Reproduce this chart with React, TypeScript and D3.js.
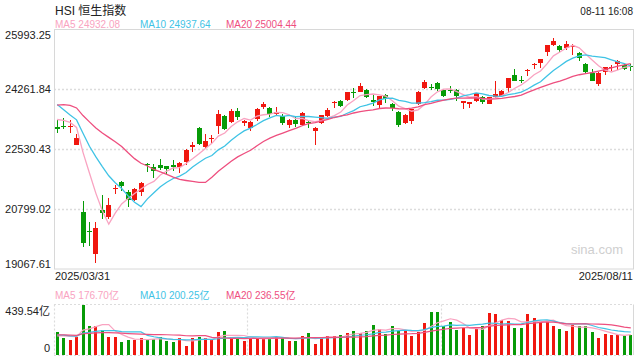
import React, { useEffect } from 'react';
import * as d3 from 'd3';

const title = 'HSI 恒生指数';
const timestamp = '08-11 16:08';
const startDate = '2025/03/31';
const endDate = '2025/08/11';
const priceTicks = [25993.25, 24261.84, 22530.43, 20799.02, 19067.61];
const volumeMax = 439.54;
const volumeUnit = '亿';
const watermark = 'sina.com';
const maPeriods = [5, 10, 20];

// 19 closes before the first shown day (used only for moving averages)
const priorCloses = [22941.32, 23594.21, 24369.71, 24231.3, 23783.49, 23782.14, 23600.31, 23462.65, 23959.98, 24145.57,
  24740.57, 24771.14, 24219.95, 23689.72, 23905.56, 23344.25, 23483.32, 23578.8, 23426.6];
const priorVolumes = [180, 172, 178, 169, 183, 175, 171, 177, 180, 175, 190, 182, 188, 179, 186, 160, 155, 162, 156];

const opens = [23183, 23215, 23180, 22643, 20724, 20160, 19490, 20782, 20570, 21385,
  21592, 21303, 21052, 21283, 22095, 22026, 22064, 22055, 22064, 22016,
  22170, 22604, 23153, 22594, 22840, 23192, 23481, 23307, 23645, 23300,
  23153, 23394, 23760, 23732, 23560, 23491, 23221, 23385, 23230, 23327,
  23057, 23279, 23491, 23860, 23924, 23953, 24200, 24194, 24233, 23963,
  23809, 24088, 23847, 23616, 23279, 23336, 23828, 24310, 24340, 24445,
  24233, 24240, 24233, 23860, 23850, 23924, 24040, 23847, 24040, 24079,
  24291, 24676, 24540, 24790, 24960, 25023, 25351, 25534, 25515, 25447,
  25500, 25322, 24985, 24724, 24426, 24763, 24880, 24985, 24975, 24930];
const highs = [23365, 23442, 23375, 22980, 21033, 20435, 20435, 21197, 21110, 21500,
  21600, 21341, 21418, 21582, 22141, 22093, 22257, 22060, 22209, 22151,
  22527, 22749, 23172, 22960, 22941, 23674, 23520, 23680, 23712, 23390,
  23360, 23712, 23905, 23761, 23741, 23558, 23400, 23462, 23600, 23346,
  23175, 23530, 23712, 23930, 23963, 24200, 24291, 24435, 24281, 24088,
  24069, 24117, 23867, 23635, 23540, 23700, 24214, 24532, 24406, 24474,
  24281, 24349, 24262, 23930, 23905, 24170, 24069, 24050, 24503, 24252,
  24599, 24860, 24637, 24850, 25023, 25140, 25544, 25737, 25544, 25659,
  25560, 25351, 25014, 24860, 24750, 24917, 24965, 25119, 25004, 24985];
const lows = [22999, 23105, 22999, 22640, 19703, 19731, 19250, 20522, 20503, 21226,
  21322, 20859, 21033, 21187, 21871, 21708, 21920, 21804, 21900, 21833,
  22074, 22450, 22652, 22565, 22690, 22980, 23076, 23288, 23365, 23192,
  23057, 23346, 23683, 23462, 23480, 23221, 23153, 23173, 23201, 23153,
  22652, 23250, 23462, 23732, 23751, 23924, 24002, 24175, 24002, 23770,
  23693, 23876, 23626, 23173, 23250, 23250, 23809, 24281, 24243, 24214,
  24040, 24146, 23924, 23693, 23712, 23886, 23828, 23828, 24021, 24059,
  24165, 24503, 24455, 24637, 24840, 24888, 25226, 25505, 25351, 25399,
  25254, 25081, 24744, 24493, 24368, 24686, 24792, 24811, 24811, 24792];
const closes = [23119.58, 23206.84, 23202.53, 22849.81, 19828.3, 20127.68, 20264.49, 20681.78, 20914.69, 21417.4,
  21466.27, 21056.98, 21395.14, 21562.32, 22072.62, 21909.76, 21980.74, 21971.96, 22008.11, 22119.41,
  22504.68, 22662.71, 22691.88, 22775.92, 22867.74, 23549.46, 23108.27, 23640.65, 23453.16, 23345.05,
  23332.72, 23681.48, 23827.78, 23544.31, 23601.26, 23282.33, 23381.99, 23258.31, 23573.38, 23289.77,
  23157.97, 23512.49, 23654.03, 23906.97, 23792.54, 24181.43, 24162.87, 24366.94, 24035.38, 23892.56,
  24060.99, 23980.3, 23710.69, 23237.74, 23530.48, 23689.13, 24177.07, 24474.67, 24325.4, 24284.15,
  24072.28, 24221.41, 24069.94, 23916.06, 23887.83, 24148.07, 23892.32, 24028.37, 24139.57, 24203.32,
  24590.12, 24517.76, 24498.95, 24825.66, 24994.14, 25130.03, 25538.07, 25667.18, 25388.35, 25562.13,
  25524.45, 25176.93, 24773.33, 24507.81, 24733.45, 24902.53, 24910.63, 25081.63, 24858.82, 24906.81];
const volumes = [202, 152, 132, 158, 439.54, 255, 252, 217, 158, 158,
  114, 132, 132, 149, 138, 138, 158, 123, 114, 149,
  79, 149, 161, 149, 132, 202, 211, 161, 149, 126,
  138, 149, 149, 149, 158, 149, 126, 126, 167, 193,
  97, 155, 167, 167, 176, 193, 211, 193, 211, 264,
  229, 185, 255, 211, 211, 167, 202, 281, 378, 378,
  249, 290, 220, 237, 176, 229, 255, 369, 360, 308,
  299, 237, 237, 360, 319, 290, 290, 255, 229, 212.5,
  264, 255, 255, 196, 149, 186, 177, 177, 167, 176.5];

const RED = '#f0170f';
const GREEN = '#079b07';
const MA_COLORS = ['#f9a3c1', '#3fc3e5', '#ee4f7f'];
const GRID = '#dcdcdc';
const FONT = '"Liberation Sans", Arial, "Noto Sans CJK SC", sans-serif';

const L = 54, R = 634;
const MT = 29.5, MB = 269;
const VT = 304.5, VB = 355;

function movingAvg(prior: number[], vals: number[], n: number): number[] {
  const all = prior.concat(vals);
  return vals.map((_, i) => {
    const end = prior.length + i;
    return d3.mean(all.slice(end - n + 1, end + 1)) as number;
  });
}

export default function App() {
  useEffect(() => {
    document.body.style.margin = '0';
  }, []);

  const idx = d3.range(closes.length);
  const x = d3.scaleBand<number>().domain(idx).range([L, R]);
  const cx = (i: number) => (x(i) as number) + x.bandwidth() / 2;
  const y = d3.scaleLinear().domain([priceTicks[4], priceTicks[0]]).range([MB, MT]);
  const vy = d3.scaleLinear().domain([0, volumeMax]).range([VB, VT]);

  const priceMAs = maPeriods.map((n) => movingAvg(priorCloses, closes, n));
  const volMAs = maPeriods.map((n) => movingAvg(priorVolumes, volumes, n));

  const pLine = d3.line<number>().x((_, i) => cx(i)).y((d) => y(d));
  const vLine = d3.line<number>().x((_, i) => cx(i)).y((d) => vy(d));

  const legendX = [55, 140, 226];
  const thirds = [L + (R - L) / 3, L + (2 * (R - L)) / 3];

  return (
    <svg width={640} height={360} style={{ position: 'absolute', left: 0, top: 0, background: '#fff' }} fontFamily={FONT}>
      <rect x={0} y={0} width={640} height={360} fill="#fff" />
      {/* header */}
      <text x={55} y={15} fontSize={12} fill="#222">{title}</text>
      <text x={633} y={15} fontSize={10} fill="#222" textAnchor="end">{timestamp}</text>
      {maPeriods.map((n, k) => (
        <text key={'ml' + n} x={legendX[k]} y={28} fontSize={10} fill={MA_COLORS[k]}>
          {`MA${n} ${priceMAs[k][closes.length - 1].toFixed(2)}`}
        </text>
      ))}

      {/* main panel grid */}
      {priceTicks.slice(1, 4).map((t) => (
        <line key={'g' + t} x1={L} x2={R} y1={Math.round(y(t)) + 0.5} y2={Math.round(y(t)) + 0.5}
          stroke={GRID} strokeDasharray="2,2" strokeWidth={1.5} />
      ))}
      <rect x={L + 0.5} y={MT} width={R - L - 1} height={MB - MT} fill="none" stroke="#d8d8d8" strokeWidth={1} />
      {priceTicks.map((t, k) => {
        const off = k === 0 ? 5.5 : k === priceTicks.length - 1 ? -5.5 : 0;
        return (
          <text key={'t' + t} x={51} y={y(t) + off + 4} fontSize={11} fill="#222" textAnchor="end">
            {t.toFixed(2)}
          </text>
        );
      })}
      <text x={623} y={254} fontSize={13} fill="#cfcfcf" textAnchor="end">{watermark}</text>

      {/* candles */}
      {idx.map((i) => {
        const up = closes[i] >= opens[i];
        const col = up ? RED : GREEN;
        const bx = Math.round(cx(i) - 2.5);
        const top = y(Math.max(opens[i], closes[i]));
        const bot = y(Math.min(opens[i], closes[i]));
        return (
          <g key={'c' + i} shapeRendering="crispEdges">
            <line x1={bx + 2.5} x2={bx + 2.5} y1={y(highs[i])} y2={y(lows[i])} stroke={col} strokeWidth={1} />
            <rect x={bx} y={top} width={5} height={Math.max(1, bot - top)} fill={col} />
          </g>
        );
      })}
      {priceMAs.map((m, k) => (
        <path key={'pm' + k} d={pLine(m) as string} fill="none" stroke={MA_COLORS[k]} strokeWidth={1.3} />
      ))}

      {/* date labels */}
      <text x={55} y={280} fontSize={11} fill="#222">{startDate}</text>
      <text x={633} y={280} fontSize={11} fill="#222" textAnchor="end">{endDate}</text>

      {/* volume legend */}
      {maPeriods.map((n, k) => (
        <text key={'vl' + n} x={legendX[k]} y={299} fontSize={10} fill={MA_COLORS[k]}>
          {`MA${n} ${volMAs[k][volumes.length - 1].toFixed(2)}${volumeUnit}`}
        </text>
      ))}

      {/* volume panel */}
      <line x1={L} x2={R} y1={VT} y2={VT} stroke={GRID} strokeDasharray="2,2" strokeWidth={1.2} />
      <line x1={L} x2={R} y1={VB + 0.5} y2={VB + 0.5} stroke={GRID} strokeDasharray="2,2" strokeWidth={1.2} />
      <line x1={L + 0.5} x2={L + 0.5} y1={VT} y2={VB} stroke={GRID} strokeDasharray="2,2" strokeWidth={1.2} />
      {thirds.map((tx) => (
        <line key={'th' + tx} x1={Math.round(tx) + 0.5} x2={Math.round(tx) + 0.5} y1={VT} y2={VB}
          stroke={GRID} strokeDasharray="2,2" strokeWidth={1.2} />
      ))}
      <line x1={R - 0.5} x2={R - 0.5} y1={VT} y2={VB} stroke="#d8d8d8" strokeWidth={1} />
      <text x={50} y={314.5} fontSize={11} fill="#222" textAnchor="end">{`${volumeMax.toFixed(2)}${volumeUnit}`}</text>
      <text x={50} y={352} fontSize={11} fill="#222" textAnchor="end">0</text>
      {idx.map((i) => {
        const up = closes[i] >= opens[i];
        const bx = Math.round(cx(i) - 1.5);
        return (
          <rect key={'v' + i} x={bx} y={vy(volumes[i])} width={3} height={VB - vy(volumes[i])}
            fill={up ? RED : GREEN} shapeRendering="crispEdges" />
        );
      })}
      {volMAs.map((m, k) => (
        <path key={'vm' + k} d={vLine(m) as string} fill="none" stroke={MA_COLORS[k]} strokeWidth={1.2} />
      ))}
    </svg>
  );
}
